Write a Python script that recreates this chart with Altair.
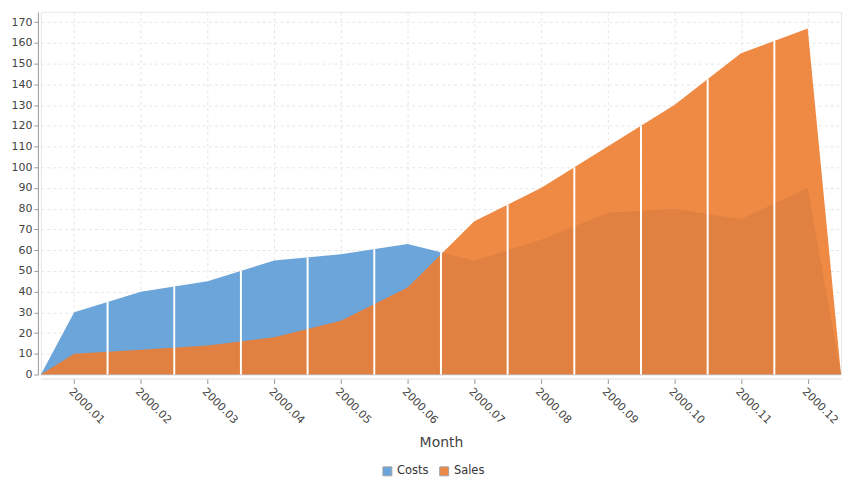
import altair as alt
import pandas as pd

months = ["2000.01", "2000.02", "2000.03", "2000.04", "2000.05", "2000.06",
          "2000.07", "2000.08", "2000.09", "2000.10", "2000.11", "2000.12"]
costs = [30, 40, 45, 55, 58, 63, 55, 65, 78, 80, 75, 90]
sales = [10, 12, 14, 18, 26, 42, 74, 90, 110, 130, 155, 167]
series_names = ["Costs", "Sales"]
series_colors = ["#5b9bd5", "#ed7d31"]
y_ticks = list(range(0, 171, 10))

rows = []
for name, vals in zip(series_names, (costs, sales)):
    rows.append({"pos": 0.0, "value": 0, "series": name})
    for i, v in enumerate(vals):
        rows.append({"pos": i + 0.5, "value": v, "series": name})
    rows.append({"pos": float(len(vals)), "value": 0, "series": name})
df = pd.DataFrame(rows)

bounds = pd.DataFrame({
    "pos": [k for k in range(1, len(months))],
    "value": [max((costs[k - 1] + costs[k]) / 2, (sales[k - 1] + sales[k]) / 2)
              for k in range(1, len(months))],
    "zero": [0] * (len(months) - 1),
})

label_expr = "[" + ",".join("'%s'" % m for m in months) + "][floor(datum.value)]"

x_scale = alt.Scale(domain=[0, len(months)], nice=False, zero=False)
y_scale = alt.Scale(domain=[0, 175], nice=False)

x_axis = alt.Axis(values=[i + 0.5 for i in range(len(months))], labelExpr=label_expr,
                  labelAngle=45, labelFontSize=11, labelColor="#444", labelFont="DejaVu Sans",
                  grid=True, gridDash=[3, 3], gridColor="#e6e6e6",
                  tickColor="#999", tickSize=5, domainColor="#ddd", offset=4,
                  title="Month", titleFontSize=14, titleColor="#444", titleFont="DejaVu Sans",
                  titleFontWeight="normal", titlePadding=10)
y_axis = alt.Axis(values=y_ticks, labelFontSize=11, labelColor="#444", labelFont="DejaVu Sans",
                  grid=True, gridDash=[3, 3], gridColor="#e6e6e6",
                  tickColor="#999", tickSize=4, domainColor="#999", offset=3, title=None)

color = alt.Color("series:N", scale=alt.Scale(domain=series_names, range=series_colors),
                  legend=alt.Legend(orient="none", direction="horizontal", legendX=342, legendY=455,
                                    title=None, symbolType="square",
                                    symbolSize=80, symbolStrokeColor="#999", symbolStrokeWidth=1,
                                    symbolOpacity=0.9, labelFontSize=11.5, labelColor="#333",
                                    labelFont="DejaVu Sans", labelOffset=4, columnPadding=8))

X = alt.X("pos:Q", scale=x_scale, axis=x_axis)
Y = alt.Y("value:Q", scale=y_scale, axis=y_axis, stack=None)

def area_layer(name):
    return alt.Chart(df).transform_filter(alt.datum.series == name).mark_area(
        opacity=0.9, interpolate="linear"
    ).encode(x=X, y=Y, color=color)

rules = alt.Chart(bounds).mark_rule(color="white", strokeWidth=2).encode(
    x=X, y=Y, y2="zero:Q",
)

chart = alt.layer(area_layer("Costs"), area_layer("Sales"), rules).properties(
    width=803, height=364, padding={"left": 3, "top": 3, "right": 5, "bottom": 2}
).configure_view(stroke="#e6e6e6")

chart.save("out.html", embed_options={"renderer": "svg", "actions": False})
